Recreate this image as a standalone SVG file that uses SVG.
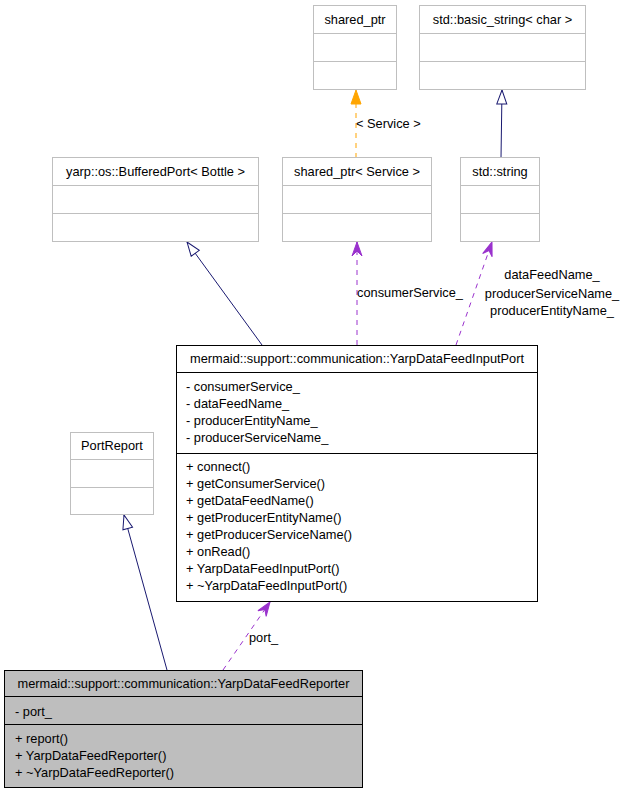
<svg xmlns="http://www.w3.org/2000/svg" width="624" height="795" viewBox="0 0 624 795">
<defs>
<style>
text{font-family:"Liberation Sans",Arial,sans-serif;font-size:12.8px;fill:#000}
.c{text-anchor:middle}
.g{fill:#fff;stroke:#bfbfbf;stroke-width:1}
.gl{stroke:#bfbfbf;stroke-width:1}
.b{fill:#fff;stroke:#000;stroke-width:1}
.bl{stroke:#000;stroke-width:1}
.r{fill:#bebebe;stroke:#000;stroke-width:1}
.inh{stroke:#191970;stroke-width:1;fill:none;marker-end:url(#tri)}
.use{stroke:#9a32cd;stroke-width:1;fill:none;stroke-dasharray:5,5;marker-end:url(#vee)}
.tpl{stroke:#ffa500;stroke-width:1;fill:none;stroke-dasharray:5,5;marker-end:url(#ftri)}
</style>
<marker id="tri" viewBox="-1 -6 16 12" refX="14" refY="0" markerWidth="16" markerHeight="12" markerUnits="userSpaceOnUse" orient="auto">
<path d="M0,-5 L14,0 L0,5 Z" fill="#fff" stroke="#191970" stroke-width="1"/>
</marker>
<marker id="vee" viewBox="-1 -6 16 12" refX="14" refY="0" markerWidth="16" markerHeight="12" markerUnits="userSpaceOnUse" orient="auto">
<path d="M0,-5 L14,0 L0,5 L5,0 Z" fill="#9a32cd" stroke="#9a32cd" stroke-width="1"/>
</marker>
<marker id="ftri" viewBox="-1 -6 16 12" refX="14" refY="0" markerWidth="16" markerHeight="12" markerUnits="userSpaceOnUse" orient="auto">
<path d="M0,-5 L14,0 L0,5 Z" fill="#ffa500" stroke="#ffa500" stroke-width="1"/>
</marker>
</defs>
<rect width="624" height="795" fill="#fff"/>

<g id="edges">
<line class="inh" x1="262" y1="345" x2="187" y2="242"/>
<line class="use" x1="357" y1="345" x2="357" y2="242"/>
<text x="357" y="297">consumerService_</text>
<line class="use" x1="456" y1="345" x2="492" y2="242"/>
<text class="c" x="552" y="278.5">dataFeedName_</text>
<text class="c" x="552" y="297.5">producerServiceName_</text>
<text class="c" x="552" y="314.5">producerEntityName_</text>
<line class="tpl" x1="356" y1="158" x2="356" y2="90"/>
<text x="356" y="127.5">&lt; Service &gt;</text>
<line class="inh" x1="501" y1="158" x2="502" y2="90"/>
<line class="inh" x1="167" y1="670" x2="124" y2="515"/>
<line class="use" x1="223" y1="670" x2="270" y2="602"/>
<text x="249" y="641.5">port_</text>
</g>

<g id="shared_ptr">
<rect class="g" x="313.5" y="5.5" width="83" height="84"/>
<line class="gl" x1="313.5" y1="33.5" x2="396.5" y2="33.5"/>
<line class="gl" x1="313.5" y1="61.5" x2="396.5" y2="61.5"/>
<text class="c" x="355" y="23.5">shared_ptr</text>
</g>

<g id="basic_string">
<rect class="g" x="419.5" y="5.5" width="166" height="84"/>
<line class="gl" x1="419.5" y1="33.5" x2="585.5" y2="33.5"/>
<line class="gl" x1="419.5" y1="61.5" x2="585.5" y2="61.5"/>
<text class="c" x="502.5" y="23.5">std::basic_string&lt; char &gt;</text>
</g>

<g id="bufferedport">
<rect class="g" x="52.5" y="157.5" width="206" height="84"/>
<line class="gl" x1="52.5" y1="185.5" x2="258.5" y2="185.5"/>
<line class="gl" x1="52.5" y1="213.5" x2="258.5" y2="213.5"/>
<text class="c" x="155.5" y="175.5">yarp::os::BufferedPort&lt; Bottle &gt;</text>
</g>

<g id="shared_ptr_service">
<rect class="g" x="282.5" y="157.5" width="149" height="84"/>
<line class="gl" x1="282.5" y1="185.5" x2="431.5" y2="185.5"/>
<line class="gl" x1="282.5" y1="213.5" x2="431.5" y2="213.5"/>
<text class="c" x="357" y="175.5">shared_ptr&lt; Service &gt;</text>
</g>

<g id="std_string">
<rect class="g" x="460.5" y="157.5" width="79" height="84"/>
<line class="gl" x1="460.5" y1="185.5" x2="539.5" y2="185.5"/>
<line class="gl" x1="460.5" y1="213.5" x2="539.5" y2="213.5"/>
<text class="c" x="500" y="175.5">std::string</text>
</g>

<g id="inputport">
<rect class="b" x="176.5" y="345.5" width="361" height="256"/>
<line class="bl" x1="176.5" y1="372.5" x2="537.5" y2="372.5"/>
<line class="bl" x1="176.5" y1="453.5" x2="537.5" y2="453.5"/>
<text class="c" x="357" y="363">mermaid::support::communication::YarpDataFeedInputPort</text>
<text x="186" y="391">- consumerService_</text>
<text x="186" y="408">- dataFeedName_</text>
<text x="186" y="425">- producerEntityName_</text>
<text x="186" y="442">- producerServiceName_</text>
<text x="186" y="470.5">+ connect()</text>
<text x="186" y="487.5">+ getConsumerService()</text>
<text x="186" y="504.5">+ getDataFeedName()</text>
<text x="186" y="521.5">+ getProducerEntityName()</text>
<text x="186" y="538.5">+ getProducerServiceName()</text>
<text x="186" y="555.5">+ onRead()</text>
<text x="186" y="572.5">+ YarpDataFeedInputPort()</text>
<text x="186" y="589.5">+ ~YarpDataFeedInputPort()</text>
</g>

<g id="portreport">
<rect class="g" x="70.5" y="432.5" width="83" height="82"/>
<line class="gl" x1="70.5" y1="459.5" x2="153.5" y2="459.5"/>
<line class="gl" x1="70.5" y1="487.5" x2="153.5" y2="487.5"/>
<text class="c" x="112" y="450">PortReport</text>
</g>

<g id="reporter">
<rect class="r" x="4.5" y="670.5" width="358" height="117"/>
<line class="bl" x1="4.5" y1="696.5" x2="362.5" y2="696.5"/>
<line class="bl" x1="4.5" y1="724.5" x2="362.5" y2="724.5"/>
<text class="c" x="183.5" y="687.5">mermaid::support::communication::YarpDataFeedReporter</text>
<text x="15" y="715.5">- port_</text>
<text x="15" y="742.5">+ report()</text>
<text x="15" y="759.5">+ YarpDataFeedReporter()</text>
<text x="15" y="776.5">+ ~YarpDataFeedReporter()</text>
</g>
</svg>
